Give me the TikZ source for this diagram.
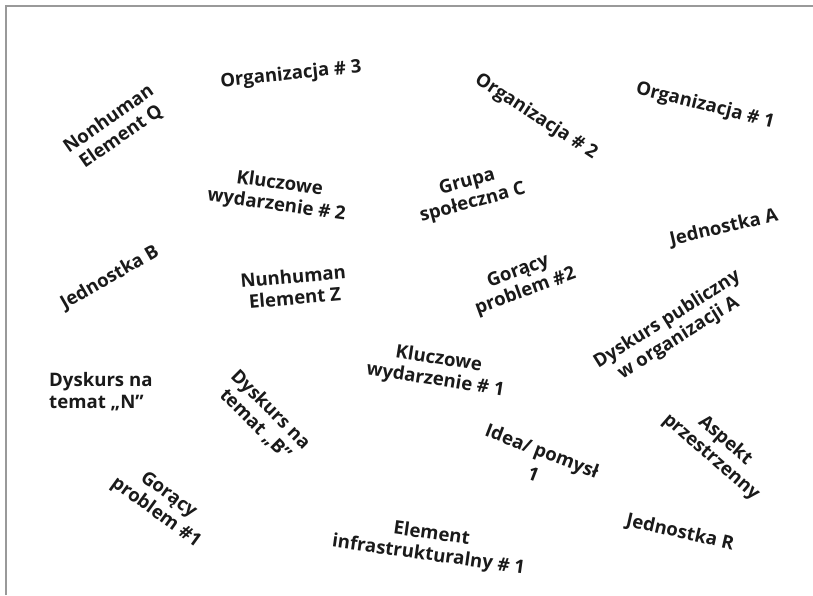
\documentclass[tikz,border=0pt]{standalone}
\usepackage{fontspec}
\setmainfont{Open Sans}
\definecolor{framegray}{HTML}{999999}
\definecolor{txt}{HTML}{1A1A1A}
\begin{document}
\begin{tikzpicture}[x=1pt,y=-1pt,
  lbl/.style={inner sep=0pt, align=center, text=txt,
    font=\fontsize{18.6}{21.5}\selectfont\bfseries}]
\useasboundingbox (0,0) rectangle (813,595);
\draw[framegray, line width=2pt] (5.5,595) -- (5.5,5.5) -- (813,5.5);

\node[lbl, rotate=6]   (org3) at (291,75)  {Organizacja \# 3};
\node[lbl, rotate=35]  (nhq)  at (115,128) {Nonhuman\\Element Q};
\node[lbl, rotate=-33] (org2) at (536,117) {Organizacja \# 2};
\node[lbl, rotate=-14] (org1) at (705,106) {Organizacja \# 1};
\node[lbl, rotate=-8]  (kw2)  at (278,195) {Kluczowe\\wydarzenie \# 2};
\node[lbl, rotate=15]  (gsc)  at (470,193) {Grupa\\społeczna C};
\node[lbl, rotate=13]  (ja)   at (724,228) {Jednostka A};
\node[lbl, rotate=30]  (jb)   at (110,278) {Jednostka B};
\node[lbl, rotate=5]   (nhz)  at (294,287) {Nunhuman\\Element Z};
\node[lbl, rotate=20]  (gp2)  at (522,282) {Gorący\\problem \#2};
\node[lbl, rotate=32]  (dpo)  at (673,329) {Dyskurs publiczny\\w organizacji A};
\node[lbl, rotate=-9]  (kw1)  at (437,370) {Kluczowe\\wydarzenie \# 1};
\node[lbl, align=left, anchor=base west] (dn) at (49,408) {Dyskurs na\\temat „N”};
\node[lbl, rotate=-45] (db)   at (263,417) {Dyskurs na\\temat „B”};
\node[lbl, rotate=-21] (idea) at (538,462) {Idea/ pomysł\\[3pt]1};
\node[lbl, rotate=-41] (asp)  at (718,449) {Aspekt\\przestrzenny};
\node[lbl, rotate=-36] (gp1)  at (162,504) {Gorący\\problem \#1};
\node[lbl, rotate=-8]  (ei)   at (430,545) {Element\\infrastrukturalny \# 1};
\node[lbl, rotate=-13] (jr)   at (680,533) {Jednostka R};
\end{tikzpicture}
\end{document}
